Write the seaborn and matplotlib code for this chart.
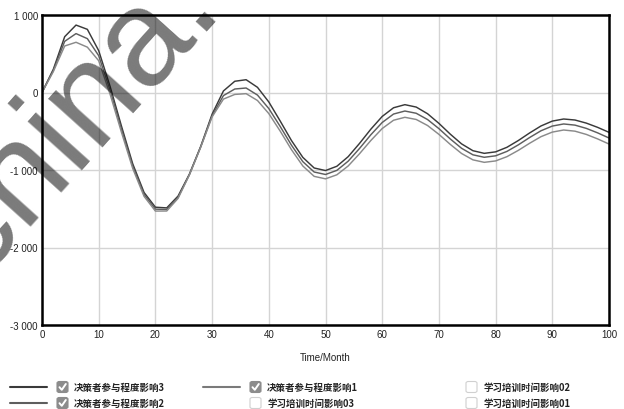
import numpy as np
import pandas as pd
import matplotlib
matplotlib.use("Agg")
import matplotlib.pyplot as plt
import seaborn as sns
from matplotlib.patches import FancyBboxPatch
from matplotlib.lines import Line2D

# ---- data ----
months = list(range(0, 101, 2))
s3 = [0, 300, 720, 870, 815, 540, 80, -430, -920, -1290, -1480,
      -1489, -1336, -1053, -694, -280, 20, 145, 165, 67, -122,
      -367, -620, -837, -974, -1007, -952, -828, -657, -473, -309,
      -197, -157, -188, -274, -398, -537, -663, -751, -785, -766,
      -707, -620, -522, -432, -369, -342, -355, -395, -450, -514]
s2 = [0, 285, 660, 760, 695, 475, 30, -470, -950, -1315, -1505,
      -1509, -1351, -1058, -699, -300, -40, 45, 58, -33, -207,
      -437, -680, -892, -1026, -1058, -1005, -886, -722, -545, -387,
      -278, -239, -268, -349, -466, -599, -720, -804, -836, -817,
      -760, -676, -581, -494, -433, -406, -421, -463, -521, -587]
s1 = [0, 270, 600, 648, 585, 410, -20, -510, -980, -1340, -1530,
      -1529, -1366, -1063, -704, -315, -85, -25, -15, -103, -272,
      -497, -738, -948, -1082, -1114, -1062, -948, -790, -619, -465,
      -358, -320, -348, -426, -540, -669, -787, -869, -901, -883,
      -828, -747, -655, -570, -511, -484, -499, -541, -599, -665]

series_names = ["决策者参与程度影响3", "决策者参与程度影响2", "决策者参与程度影响1"]
series_colors = ["#3a3a3a", "#5e5e5e", "#8a8a8a"]
xticks = list(range(0, 101, 10))
yticks = [-3000, -2000, -1000, 0, 1000]
ytick_labels = ["-3 000", "-2 000", "-1 000", "0", "1 000"]

legend_rows = [
    [("决策者参与程度影响3", True, True), ("决策者参与程度影响1", True, True), ("学习培训时间影响02", False, False)],
    [("决策者参与程度影响2", True, True), ("学习培训时间影响03", False, False), ("学习培训时间影响01", False, False)],
]
legend_line_colors = {"决策者参与程度影响3": "#3a3a3a", "决策者参与程度影响2": "#5e5e5e",
                      "决策者参与程度影响1": "#7a7a7a"}

df = pd.DataFrame({
    "Time": months * 3,
    "value": s3 + s2 + s1,
    "series": [series_names[0]] * len(months) + [series_names[1]] * len(months) + [series_names[2]] * len(months),
})

sns.set_theme(style="whitegrid")
plt.rcParams["font.family"] = ["Liberation Sans", "Noto Sans CJK SC", "DejaVu Sans"]

W, H = 624, 410
fig = plt.figure(figsize=(W / 100, H / 100), dpi=100)
fig.patch.set_facecolor("white")
ax = fig.add_axes([42 / W, 1 - 326 / H, (609 - 42) / W, (326 - 16) / H])
ax.set_facecolor("white")

sns.lineplot(data=df, x="Time", y="value", hue="series", hue_order=series_names,
             palette=dict(zip(series_names, series_colors)), linewidth=1.05,
             legend=False, ax=ax)

ax.set_xlim(0, 100)
ax.set_ylim(-3000, 1000)
ax.set_xticks(xticks)
ax.set_xticklabels([str(t) for t in xticks], fontsize=7, color="#222222")
ax.set_yticks(yticks)
ax.set_yticklabels(ytick_labels, fontsize=7, color="#222222")
ax.tick_params(axis="both", length=0, pad=3)
ax.grid(True, color="#d4d4d4", linewidth=1.0)
for sp in ax.spines.values():
    sp.set_visible(True)
    sp.set_color("black")
    sp.set_linewidth(1.8)
ax.set_xlabel("")
ax.set_ylabel("")

fig.text(325 / W, 1 - 358 / H, "Time/Month", ha="center", va="center", fontsize=7, color="#222222")

# ---- legend (Vensim style with checkboxes) ----
cols_x = [(10, 47, 57), (203, 240, 250), (None, None, 466)]
rows_y = [388, 404]
for r, row in enumerate(legend_rows):
    y = rows_y[r]
    for c, (name, has_line, checked) in enumerate(row):
        lx0, lx1, bx = cols_x[c]
        if has_line and lx0 is not None:
            fig.add_artist(Line2D([lx0 / W, lx1 / W], [1 - y / H, 1 - y / H],
                                  color=legend_line_colors[name], linewidth=1.5,
                                  transform=fig.transFigure))
        bs = 11
        box = FancyBboxPatch((bx / W, 1 - (y + bs / 2) / H), bs / W, bs / H,
                             boxstyle="round,pad=0,rounding_size=0.004",
                             transform=fig.transFigure,
                             facecolor="#8c8c8c" if checked else "white",
                             edgecolor="#8c8c8c" if checked else "#d0d0d0",
                             linewidth=0.8)
        fig.add_artist(box)
        if checked:
            cx = [bx + 2.5, bx + 4.8, bx + 8.8]
            cy = [y + 0.2, y + 2.8, y - 3.0]
            fig.add_artist(Line2D([v / W for v in cx], [1 - v / H for v in cy],
                                  color="white", linewidth=1.4, transform=fig.transFigure,
                                  solid_capstyle="round", solid_joinstyle="round"))
        fig.text((bx + 17) / W, 1 - y / H, name, ha="left", va="center",
                 fontsize=6.8, fontweight="bold", color="#222222",
                 family=["Noto Sans CJK SC", "DejaVu Sans"])

# ---- watermark ----
fig.text(223 / W, 1 - 8 / H, "china.", rotation=48, rotation_mode="anchor",
         ha="right", va="baseline", fontsize=99, color="black", alpha=0.52,
         family=["Liberation Sans", "DejaVu Sans"], zorder=10)

fig.savefig("out.png", dpi=100, facecolor="white")
